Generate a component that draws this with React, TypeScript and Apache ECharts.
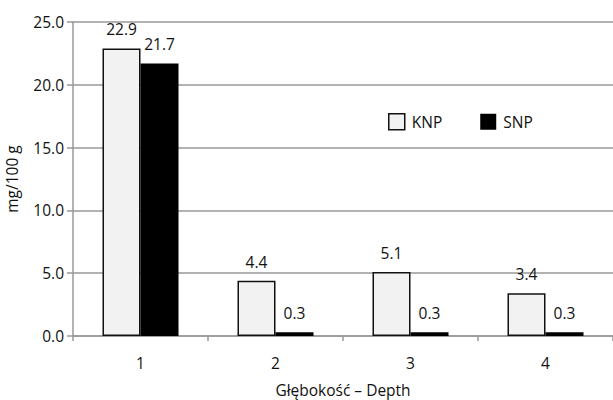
import React, { useEffect, useRef } from "react";
import * as echarts from "echarts";

const categories = ["1", "2", "3", "4"];
const knpValues = [22.9, 4.4, 5.1, 3.4];
const snpValues = [21.7, 0.3, 0.3, 0.3];
const seriesNames = ["KNP", "SNP"];
const yAxisTitle = "mg/100 g";
const xAxisTitle = "Głębokość – Depth";

const FONT = "'Open Sans', 'Noto Sans', sans-serif";
const FS = 15.5;

export default function App() {
  const ref = useRef<HTMLDivElement>(null);
  useEffect(() => {
    if (!ref.current) return;
    const chart = echarts.init(ref.current, undefined, { renderer: "svg" });
    const labelStyle = {
      show: true,
      position: "top" as const,
      distance: 11,
      color: "#111",
      fontSize: FS,
      fontFamily: FONT,
      formatter: (p: any) => Number(p.value).toFixed(1),
    };
    chart.setOption({
      animation: false,
      backgroundColor: "#fff",
      textStyle: { fontFamily: FONT },
      grid: { left: 73, right: 0, top: 22, bottom: 64, containLabel: false, outerBoundsMode: "none" },
      legend: {
        left: 388,
        top: 113,
        padding: 0,
        itemWidth: 16,
        itemHeight: 16,
        itemGap: 38,
        textStyle: { fontSize: FS, color: "#111", fontFamily: FONT, padding: [0, 0, 0, 2] },
        data: [
          { name: seriesNames[0], icon: "rect", itemStyle: { color: "#f2f2f2", borderColor: "#111", borderWidth: 1.5 } },
          { name: seriesNames[1], icon: "rect", itemStyle: { color: "#000", borderWidth: 0 } },
        ],
      },
      xAxis: {
        type: "category",
        data: categories,
        name: xAxisTitle,
        nameLocation: "middle",
        nameGap: 45,
        nameTextStyle: { fontSize: FS, lineHeight: 17, color: "#111", fontFamily: FONT },
        axisLine: { show: true, lineStyle: { color: "#999", width: 1.5 } },
        axisTick: { show: true, length: 5, lineStyle: { color: "#999", width: 1.5 } },
        axisLabel: { fontSize: FS, color: "#111", margin: 19, fontFamily: FONT },
        splitLine: { show: false },
      },
      yAxis: {
        type: "value",
        min: 0,
        max: 25,
        interval: 5,
        name: yAxisTitle,
        nameLocation: "middle",
        nameGap: 53,
        nameTextStyle: { fontSize: FS, color: "#111", fontFamily: FONT },
        axisLine: { show: true, lineStyle: { color: "#999", width: 1.5 } },
        axisTick: { show: true, length: 6, lineStyle: { color: "#999", width: 1.5 } },
        axisLabel: {
          fontSize: FS,
          color: "#111",
          margin: 9,
          fontFamily: FONT,
          formatter: (v: number) => v.toFixed(1),
        },
        splitLine: { show: true, lineStyle: { color: "#999", width: 1.5 } },
      },
      series: [
        {
          name: seriesNames[0],
          type: "bar",
          data: knpValues,
          barWidth: 38,
          barGap: "0%",
          itemStyle: { color: "#f2f2f2", borderColor: "#111", borderWidth: 1.5 },
          label: labelStyle,
        },
        {
          name: seriesNames[1],
          type: "bar",
          data: snpValues,
          barWidth: 38,
          barGap: "0%",
          itemStyle: { color: "#000" },
          label: labelStyle,
        },
      ],
    });
    return () => chart.dispose();
  }, []);
  return <div ref={ref} style={{ width: 613, height: 400, position: "absolute", left: 0, top: 0 }} />;
}
